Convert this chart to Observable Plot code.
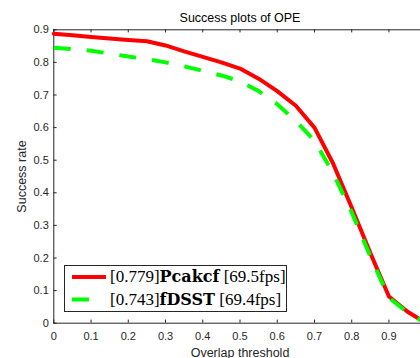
<!DOCTYPE html>
<html>
<head>
<meta charset="utf-8">
<script src="https://cdn.jsdelivr.net/npm/d3@7"></script>
<script src="https://cdn.jsdelivr.net/npm/@observablehq/plot@0.6"></script>
<style>
  html, body { margin: 0; padding: 0; background: #fff; overflow: hidden; }
  #chart { position: relative; width: 420px; height: 358px; overflow: hidden; }
  #chart svg { overflow: hidden; }
</style>
</head>
<body>
<div id="chart"></div>
<script>
// Overlap thresholds at which success rate is evaluated
const thresholds = [0, 0.05, 0.1, 0.15, 0.2, 0.25, 0.3, 0.35, 0.4, 0.45, 0.5,
                    0.55, 0.6, 0.65, 0.7, 0.75, 0.8, 0.85, 0.9, 0.95, 1.0];
// Success rate per tracker
const pcakcf = [0.888, 0.883, 0.878, 0.873, 0.869, 0.865, 0.852, 0.834, 0.817, 0.800, 0.781,
                0.750, 0.712, 0.667, 0.600, 0.490, 0.355, 0.215, 0.082, 0.035, 0.0];
const fdsst  = [0.845, 0.841, 0.836, 0.827, 0.818, 0.810, 0.800, 0.788, 0.774, 0.760, 0.742,
                0.712, 0.672, 0.620, 0.560, 0.460, 0.340, 0.205, 0.078, 0.033, 0.0];
// Legend entries
const legendScores = ["0.779", "0.743"];
const legendNames  = ["Pcakcf", "fDSST"];
const legendFps    = ["69.5fps", "69.4fps"];
// Tick values
const xTicks = [0, 0.1, 0.2, 0.3, 0.4, 0.5, 0.6, 0.7, 0.8, 0.9, 1];
const yTicks = [0, 0.1, 0.2, 0.3, 0.4, 0.5, 0.6, 0.7, 0.8, 0.9];

const rowsA = thresholds.map((t, i) => ({t, v: pcakcf[i]}));
const rowsB = thresholds.map((t, i) => ({t, v: fdsst[i]}));
const fmt = d => String(+d.toFixed(1));
const axisColor = "#262626";
const sans = "'Liberation Sans', Arial, Helvetica, sans-serif";

const svg = Plot.plot({
  width: 420,
  height: 358,
  marginLeft: 53,
  marginRight: 0,
  marginTop: 29,
  marginBottom: 35,
  x: {domain: [0, 1], range: [53.3, 425.7], axis: null},
  y: {domain: [0, 0.9], range: [322.7, 29.3], axis: null},
  style: {fontFamily: sans, background: "#fff", overflow: "hidden"},
  marks: [
    // axes box
    Plot.ruleY([0, 0.9], {stroke: axisColor, strokeWidth: 1}),
    Plot.ruleX([0, 1], {stroke: axisColor, strokeWidth: 1}),
    // inward ticks
    Plot.ruleX(xTicks, {y1: 0, y2: 0.0095, stroke: axisColor}),
    Plot.ruleX(xTicks, {y1: 0.9, y2: 0.8905, stroke: axisColor}),
    Plot.ruleY(yTicks, {x1: 0, x2: 0.009, stroke: axisColor}),
    // tick labels
    Plot.text(xTicks, {x: d => d, y: 0, dy: 13, text: fmt, fill: axisColor, fontSize: 11}),
    Plot.text(yTicks, {x: 0, y: d => d, dx: -5, text: fmt, textAnchor: "end", fill: axisColor, fontSize: 11}),
    // success curves
    Plot.line(rowsA, {x: "t", y: "v", stroke: "#ff0000", strokeWidth: 4, strokeLinejoin: "round"}),
    Plot.line(rowsB, {x: "t", y: "v", stroke: "#00ff00", strokeWidth: 4, strokeDasharray: "17,16", strokeLinecap: "butt"}),
    // title and axis labels
    Plot.text(["Success plots of OPE"], {x: 0.5, y: 0.9, dy: -11.5, fontSize: 12.5, fill: "#000"}),
    Plot.text(["Overlap threshold"], {x: 0.5, y: 0, dy: 30, fontSize: 12.5, fill: axisColor}),
    Plot.text(["Success rate"], {x: 0, y: 0.45, dx: -31.6, rotate: -90, fontSize: 12.5, fill: axisColor})
  ]
});

document.getElementById("chart").appendChild(svg);

// Legend box in the lower left of the axes
const lg = d3.select(svg).append("g").attr("class", "legend").attr("text-anchor", "start");
lg.append("rect")
  .attr("x", 64.5).attr("y", 265.5).attr("width", 222).attr("height", 46)
  .attr("fill", "#fff").attr("stroke", axisColor).attr("stroke-width", 1);
const colors = ["#ff0000", "#00ff00"];
const rowY = [277, 299.5];
legendNames.forEach((name, i) => {
  lg.append("line")
    .attr("x1", 72).attr("x2", 106).attr("y1", rowY[i]).attr("y2", rowY[i])
    .attr("stroke", colors[i]).attr("stroke-width", 4)
    .attr("stroke-dasharray", i === 1 ? "17,17" : null);
  const t = lg.append("text")
    .attr("x", 110).attr("y", rowY[i] + 5)
    .attr("text-anchor", "start")
    .attr("font-family", "'Liberation Serif', 'Times New Roman', serif")
    .attr("font-size", 17).attr("fill", "#000");
  t.append("tspan").text("[" + legendScores[i] + "]");
  t.append("tspan").attr("font-family", "'DejaVu Serif', serif").attr("font-weight", "bold")
    .attr("font-size", 16).text(name);
  t.append("tspan").text("\u00a0[" + legendFps[i] + "]");
});
</script>
</body>
</html>
